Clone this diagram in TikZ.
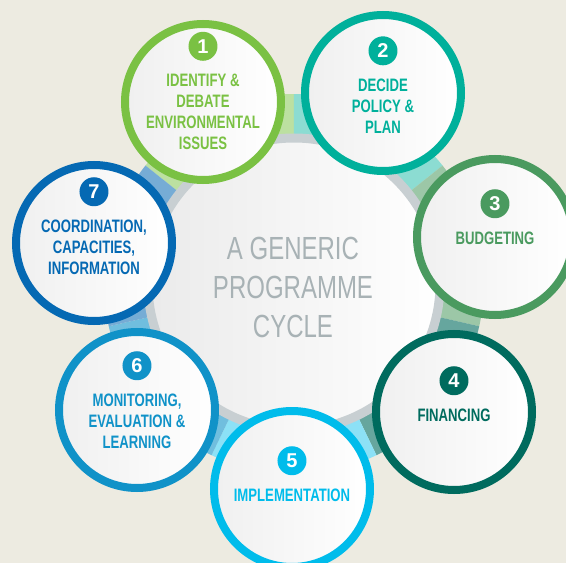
\documentclass[tikz,border=0pt]{standalone}
\usepackage{fontspec}
\usetikzlibrary{positioning}
\newfontfamily\labelfont{Liberation Sans}[FakeStretch=0.73]
\newfontfamily\titlefont{Liberation Sans}[FakeStretch=0.75]
\newfontfamily\numfont{Liberation Sans}
\definecolor{paper}{RGB}{237,235,225}
\definecolor{ringgrey}{RGB}{200,207,210}
\definecolor{titlegrey}{RGB}{168,178,181}
\definecolor{c1}{RGB}{122,193,67}
\definecolor{c2}{RGB}{0,176,155}
\definecolor{c3}{RGB}{74,154,95}
\definecolor{c4}{RGB}{0,107,94}
\definecolor{c5}{RGB}{0,188,235}
\definecolor{c6}{RGB}{16,146,200}
\definecolor{c7}{RGB}{5,105,179}
\tikzset{
  stage/.style={circle,minimum size=156pt,inner sep=0pt,line width=8pt,draw=#1,left color=black!6,right color=white},
  stagetext/.style={text=#1,align=center,inner sep=0pt,font=\labelfont\bfseries\fontsize{18}{21}\selectfont},
  badge/.style={circle,fill=#1,text=white,minimum size=29pt,inner sep=0pt,font=\numfont\bfseries\fontsize{20}{20}\selectfont}
}
\begin{document}
\begin{tikzpicture}[x=1pt,y=1pt]
\fill[paper] (-294,-279) rectangle (272,284);
\useasboundingbox (-294,-279) rectangle (272,284);
\foreach \a/\c/\t in {115.71/c1/50,64.29/c2/45,12.86/c3/55,-38.57/c4/60,-90/c5/45,-141.43/c6/60,167.14/c7/55}
  \fill[\c!\t] ({\a-25.72}:150) arc({\a-25.72}:{\a+25.72}:150) -- ({\a+25.72}:190) arc({\a+25.72}:{\a-25.72}:190) -- cycle;
\shade[left color=black!8,right color=white] (0,0) circle (146);
\draw[ringgrey,line width=9pt] (0,0) circle (146);
\node[text=titlegrey,align=center,inner sep=0pt,font=\titlefont\fontsize{32}{39}\selectfont] (title) at (-1,-3) {A GENERIC\\PROGRAMME\\CYCLE};
\foreach \i/\p/\dy/\txt in {1/{-91,182}/-10/{IDENTIFY \&\\DEBATE\\ENVIRONMENTAL\\ISSUES},
    2/{89,191}/-13/{DECIDE\\POLICY \&\\PLAN},
    3/{201,47}/-1/{BUDGETING},
    4/{160,-128}/-3/{FINANCING},
    5/{-2,-205}/-6/{IMPLEMENTATION},
    6/{-157,-126}/-11/{MONITORING,\\EVALUATION \&\\LEARNING},
    7/{-200,41}/-4/{COORDINATION,\\CAPACITIES,\\INFORMATION}}{
  \node[stage=c\i] (s\i) at (\p) {};
  \node[stagetext=c\i] (t\i) at ([yshift=\dy]s\i.center) {\txt};
  \node[badge=c\i,above=13pt of t\i] (b\i) {\i};
}
\end{tikzpicture}
\end{document}
